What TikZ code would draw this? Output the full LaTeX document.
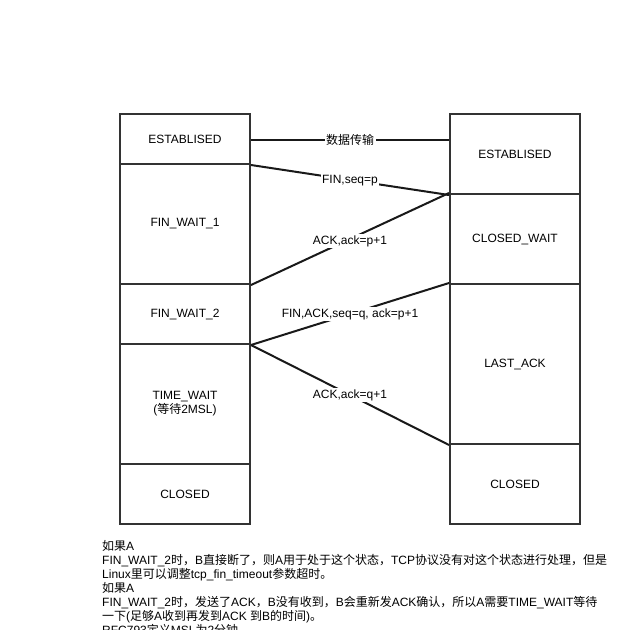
\documentclass[tikz,border=0pt]{standalone}
\usepackage{fontspec}
\setmainfont{Liberation Sans}
\newfontfamily\cjk{Noto Sans CJK SC}
\newcommand{\zh}[1]{{\cjk #1}}
\begin{document}
\begin{tikzpicture}[x=1pt,y=-1pt,
  state/.style={draw=black!80,line width=2pt,fill=white,minimum width=130pt,inner sep=0pt,font=\fontsize{12}{14}\selectfont,align=center},
  msg/.style={draw=black!90,line width=2pt},
  lbl/.style={fill=white,inner sep=1.5pt,font=\fontsize{12}{14}\selectfont}]
\useasboundingbox (0,0) rectangle (629,630);
\fill[white] (0,0) rectangle (629,630);
% left column
\node[state,minimum height=50pt] (estA) at (185,139) {ESTABLISED};
\node[state,minimum height=120pt] (fw1) at (185,224) {FIN\_WAIT\_1};
\node[state,minimum height=60pt] (fw2) at (185,314) {FIN\_WAIT\_2};
\node[state,minimum height=120pt] (tw) at (185,404) {TIME\_WAIT\\(\zh{等待}2MSL)};
\node[state,minimum height=60pt] (clA) at (185,494) {CLOSED};
% right column
\node[state,minimum height=80pt] (estB) at (515,154) {ESTABLISED};
\node[state,minimum height=90pt] (cw) at (515,239) {CLOSED\_WAIT};
\node[state,minimum height=160pt] (la) at (515,364) {LAST\_ACK};
\node[state,minimum height=80pt] (clB) at (515,484) {CLOSED};
% messages
\coordinate (dA) at ([yshift=-1pt]estA.east);
\draw[msg] (dA) -- (estB.west |- dA) node[lbl,midway] {\zh{数据传输}};
\draw[msg] (estA.south east) -- (estB.south west) node[lbl,pos=0.5,yshift=-1pt] {FIN,seq=p};
\draw[msg] (fw1.south east) -- (cw.north west) node[lbl,pos=0.5,yshift=-2pt] {ACK,ack=p+1};
\draw[msg] (fw2.south east) -- (la.north west) node[lbl,pos=0.5] {FIN,ACK,seq=q, ack=p+1};
\draw[msg] (fw2.south east) -- (la.south west) node[lbl,pos=0.5] {ACK,ack=q+1};
% note
\node[anchor=north west,inner sep=0pt,align=left,font=\fontsize{12}{14}\selectfont] (note) at (102,540) {%
\zh{如果}A\\
FIN\_WAIT\_2\zh{时，}B\zh{直接断了，则}A\zh{用于处于这个状态，}TCP\zh{协议没有对这个状态进行处理，但是}\\
Linux\zh{里可以调整}tcp\_fin\_timeout\zh{参数超时。}\\
\zh{如果}A\\
FIN\_WAIT\_2\zh{时，发送了}ACK\zh{，}B\zh{没有收到，}B\zh{会重新发}ACK\zh{确认，所以}A\zh{需要}TIME\_WAIT\zh{等待}\\
\zh{一下}(\zh{足够}A\zh{收到再发到}ACK \zh{到}B\zh{的时间})\zh{。}\\
RFC793\zh{定义}MSL\zh{为}2\zh{分钟}};
\end{tikzpicture}
\end{document}
